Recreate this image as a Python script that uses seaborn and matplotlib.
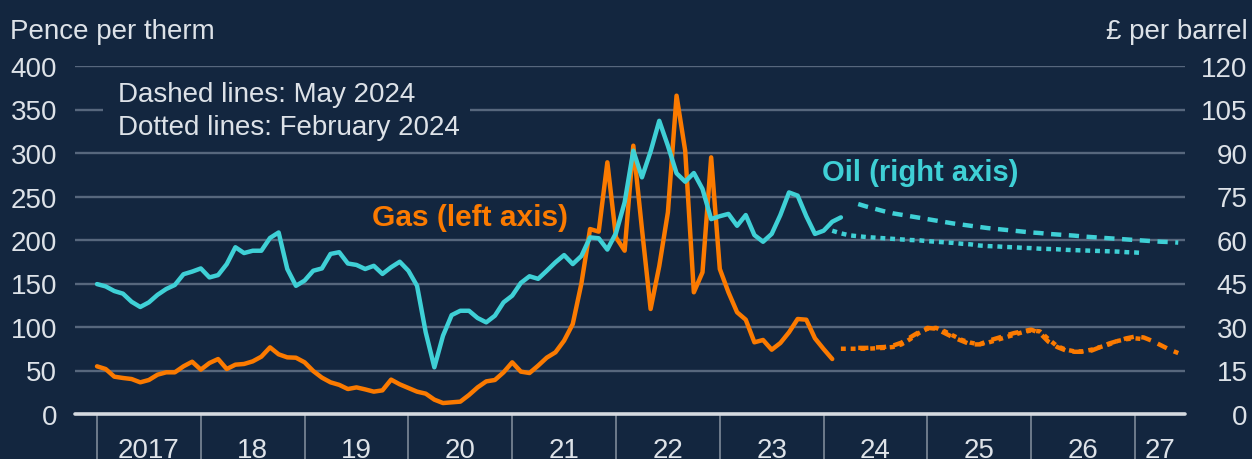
import numpy as np
import pandas as pd
import matplotlib
matplotlib.use("Agg")
import matplotlib.pyplot as plt
import seaborn as sns
from matplotlib.patches import Rectangle

# Monthly history, Jan 2017 onwards
start_year = 2017
gas_hist = [54.8, 51.7, 42.9, 41.4, 40.2, 36.4, 39.1, 45.2, 47.9, 47.9, 54.8, 60.1,
            51.0, 58.6, 63.2, 51.7, 56.7, 57.5, 60.5, 65.9, 76.6, 68.6, 65.1, 64.7,
            59.4, 49.4, 41.8, 36.4, 33.5, 28.7, 30.6, 28.3, 25.7, 27.2, 39.5, 34.1,
            29.9, 25.7, 23.4, 16.5, 12.6, 13.4, 14.2, 21.8, 30.6, 37.5, 39.1, 47.9,
            59.4, 48.7, 47.1, 55.6, 64.8, 70.9, 84.3, 103.4, 150.0, 212.6, 209.6, 289.3,
            203.0, 187.7, 308.4, 212.6, 120.7, 170.0, 231.8, 365.9, 302.6, 139.9, 162.9, 295.0,
            166.7, 139.9, 116.9, 108.4, 82.4, 85.1, 73.9, 81.6, 93.9, 109.2, 108.4, 87.0,
            74.7, 63.2]
oil_hist = [44.8, 44.0, 42.4, 41.5, 38.7, 36.9, 38.5, 41.1, 43.1, 44.5, 48.2, 49.1,
            50.2, 47.1, 47.9, 51.7, 57.5, 55.5, 56.3, 56.3, 60.7, 62.6, 50.0, 44.2,
            46.0, 49.4, 50.2, 55.2, 55.8, 51.9, 51.4, 50.0, 51.1, 48.3, 50.6, 52.5,
            49.4, 44.2, 28.2, 16.1, 27.0, 34.1, 35.6, 35.6, 33.1, 31.6, 33.9, 38.5,
            40.8, 45.2, 47.5, 46.6, 49.4, 52.3, 54.8, 51.7, 54.5, 60.9, 60.6, 56.7,
            62.4, 73.0, 90.8, 81.6, 90.5, 101.1, 92.5, 83.0, 80.1, 83.1, 77.6, 67.2,
            68.2, 69.0, 64.9, 68.6, 61.7, 59.4, 62.1, 68.6, 76.4, 75.3, 68.2, 62.1,
            63.2, 66.3, 67.8]

# Futures curves: May 2024 (dashed) and February 2024 (dotted)
gas_may_start = 88
gas_may = [76, 76, 76.5, 77, 78.5, 82, 88, 94, 99, 98, 93, 88, 84, 80, 80, 84, 87, 90,
           93, 95, 97, 93, 83, 77, 73, 71.5, 71.5, 73, 77, 81, 84, 87, 89, 88, 84, 79,
           74, 70]
gas_feb_start = 86
gas_feb = [75, 75, 75, 75, 75.5, 76, 77, 80, 86, 93, 98, 99, 95, 90, 85, 82, 80, 82,
           85, 88, 91, 94, 96, 95, 86, 78, 74, 72, 72, 74, 77, 80, 84, 86, 87, 86]
oil_may_start = 88
oil_may = [72.4, 71.5, 70.7, 69.9, 69.2, 68.7, 68.2, 67.7, 67.2, 66.7, 66.2, 65.7,
           65.3, 64.9, 64.5, 64.1, 63.8, 63.5, 63.2, 62.9, 62.6, 62.4, 62.1, 61.9,
           61.7, 61.5, 61.2, 61.0, 60.8, 60.6, 60.4, 60.2, 60.0, 59.8, 59.6, 59.4,
           59.3, 59.1]
oil_feb_start = 85
oil_feb = [63.2, 62.3, 61.6, 61.3, 61.0, 60.8, 60.6, 60.4, 60.2, 60.0, 59.9, 59.6,
           59.4, 59.2, 59.0, 58.7, 58.5, 58.1, 57.9, 57.8, 57.6, 57.5, 57.3, 57.2,
           57.0, 56.9, 56.8, 56.6, 56.5, 56.4, 56.3, 56.2, 56.1, 56.0, 55.8, 55.7, 55.5]

year_labels = ["2017", "18", "19", "20", "21", "22", "23", "24", "25", "26", "27"]
left_ticks = [0, 50, 100, 150, 200, 250, 300, 350, 400]
right_ticks = [0, 15, 30, 45, 60, 75, 90, 105, 120]


def to_frame(values, start):
    t = start_year + (start + np.arange(len(values))) / 12
    return pd.DataFrame({"t": t, "v": values})


BG = "#13263f"
TXT = "#dde2e8"
GRID = "#57677d"
ORANGE = "#fb7a00"
CYAN = "#3fd0d6"

sns.set_theme(style="white")
plt.rcParams["font.family"] = ["Liberation Sans", "DejaVu Sans"]

fig = plt.figure(figsize=(12.52, 4.6), dpi=100, facecolor=BG)
ax = fig.add_axes([75 / 1252, 1 - 415 / 460, 1110 / 1252, 348 / 460])
ax.set_facecolor(BG)
ax2 = ax.twinx()
ax2.patch.set_visible(False)

lw = 3.2
sns.lineplot(data=to_frame(gas_hist, 0), x="t", y="v", ax=ax, color=ORANGE, lw=lw, zorder=4)
sns.lineplot(data=to_frame(gas_feb, gas_feb_start), x="t", y="v", ax=ax, color=ORANGE,
             lw=lw, zorder=4, linestyle=(0, (1.1, 1.1)))
sns.lineplot(data=to_frame(gas_may, gas_may_start), x="t", y="v", ax=ax, color=ORANGE,
             lw=lw, zorder=4, linestyle=(0, (2.3, 1.7)))
sns.lineplot(data=to_frame(oil_hist, 0), x="t", y="v", ax=ax2, color=CYAN, lw=lw, zorder=4)
sns.lineplot(data=to_frame(oil_feb, oil_feb_start), x="t", y="v", ax=ax2, color=CYAN,
             lw=lw, zorder=4, linestyle=(0, (1.1, 1.1)))
sns.lineplot(data=to_frame(oil_may, oil_may_start), x="t", y="v", ax=ax2, color=CYAN,
             lw=lw, zorder=4, linestyle=(0, (2.3, 1.7)))

x0 = start_year + (75 - 97) / 103.8
x1 = start_year + (1185 - 97) / 103.8
for a in (ax, ax2):
    a.set_xlim(x0, x1)
    a.set_xlabel("")
    a.set_ylabel("")
    for s in a.spines.values():
        s.set_visible(False)
    a.set_xticks([])
ax.set_ylim(0, 400)
ax2.set_ylim(0, 120)

ax.set_yticks(left_ticks)
ax.set_yticklabels([str(v) for v in left_ticks])
ax2.set_yticks(right_ticks)
ax2.set_yticklabels([str(v) for v in right_ticks])
ax.tick_params(axis="y", length=0, pad=13, labelsize=20, labelcolor=TXT)
ax2.tick_params(axis="y", length=0, pad=45, labelsize=20, labelcolor=TXT)
for lab in ax2.get_yticklabels():
    lab.set_horizontalalignment("right")

# gridlines and zero line
for v in left_ticks[1:]:
    ax.axhline(v, color=GRID, lw=1.7, zorder=1)
ax.axhline(0, color="#d5dae0", lw=2.6, zorder=5, clip_on=False)

# year separators and labels below the axis
years = np.arange(start_year, start_year + len(year_labels))
ax.vlines(years, -0.13, 0, transform=ax.get_xaxis_transform(), color="#7d8999",
          lw=1.2, clip_on=False)
for i, lab in enumerate(year_labels):
    right = years[i] + 1 if i < len(year_labels) - 1 else x1
    ax.text((years[i] + right) / 2, -0.103, lab, transform=ax.get_xaxis_transform(),
            ha="center", va="center", fontsize=20, color=TXT, clip_on=False)

# note box
ax.add_patch(Rectangle(((103 - 75) / 1110, (415 - 146) / 348), (470 - 103) / 1110,
                       (146 - 78) / 348, transform=ax.transAxes, facecolor=BG,
                       edgecolor="none", zorder=2))
ax.text((118 - 75) / 1110, (415 - 95) / 348, "Dashed lines: May 2024", transform=ax.transAxes,
        ha="left", va="center", fontsize=20, color=TXT, zorder=3)
ax.text((118 - 75) / 1110, (415 - 128) / 348, "Dotted lines: February 2024",
        transform=ax.transAxes, ha="left", va="center", fontsize=20, color=TXT, zorder=3)

ax.text((372 - 75) / 1110, (415 - 218) / 348, "Gas (left axis)", transform=ax.transAxes,
        ha="left", va="center", fontsize=21.5, fontweight="bold", color=ORANGE)
ax.text((822 - 75) / 1110, (415 - 173) / 348, "Oil (right axis)", transform=ax.transAxes,
        ha="left", va="center", fontsize=21, fontweight="bold", color=CYAN)

fig.text(10 / 1252, 1 - 32 / 460, "Pence per therm", ha="left", va="center",
         fontsize=20, color=TXT)
fig.text(1248 / 1252, 1 - 32 / 460, "£ per barrel", ha="right", va="center",
         fontsize=20, color=TXT)

fig.savefig("out.png", dpi=100, facecolor=BG)
